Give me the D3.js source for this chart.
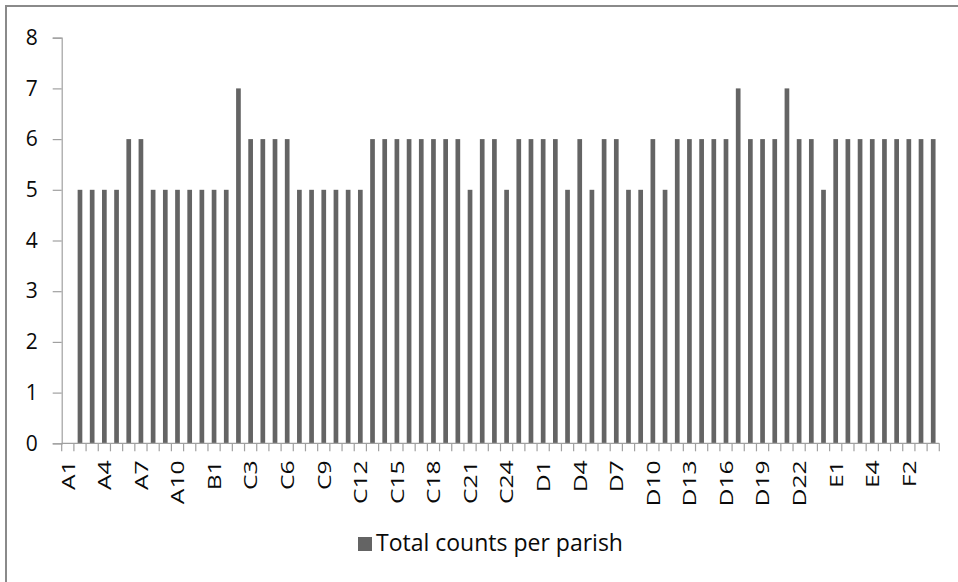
<!DOCTYPE html>
<html>
<head>
<meta charset="utf-8">
<script src="https://cdn.jsdelivr.net/npm/d3@7"></script>
<style>
  html, body { margin: 0; padding: 0; background: #fff; overflow: hidden; }
  svg { display: block; }
  text { font-family: "Open Sans", "Liberation Sans", sans-serif; fill: #0a0a0a; }
</style>
</head>
<body>
<svg id="chart" width="958" height="582"></svg>
<script>
// ---- data ----
const groupA = ["A1","A2","A3","A4","A5","A6","A7","A8","A9","A10","A11","A12"];
const groupB = ["B1"];
const groupC = ["C1","C2","C3","C4","C5","C6","C7","C8","C9","C10","C11","C12","C13",
                "C14","C15","C16","C17","C18","C19","C20","C21","C22","C23","C24","C25","C26"];
const groupD = ["D1","D2","D3","D4","D5","D6","D7","D8","D9","D10","D11","D12",
                "D13","D14","D15","D16","D17","D18","D19","D20","D21","D22","D23","D24"];
const groupE = ["E1","E2","E3","E4","E5"];
const groupF = ["F1","F2","F3","F4"];
const categories = [...groupA, ...groupB, ...groupC, ...groupD, ...groupE, ...groupF];

const valuesA = [0,5,5,5,5,6,6,5,5,5,5,5];
const valuesB = [5];
const valuesC = [5,7,6,6,6,6,5,5,5,5,5,5,6,6,6,6,6,6,6,6,5,6,6,5,6,6];
const valuesD = [6,6,5,6,5,6,6,5,5,6,5,6,6,6,6,6,7,6,6,6,7,6,6,5];
const valuesE = [6,6,6,6,6];
const valuesF = [6,6,6,6];
const values = [...valuesA, ...valuesB, ...valuesC, ...valuesD, ...valuesE, ...valuesF];

const yTicks = [0,1,2,3,4,5,6,7,8];
const seriesName = "Total counts per parish";

// ---- layout ----
const svg = d3.select("#chart");
const plot = { left: 61.7, right: 939.3, top: 37.7, bottom: 443.3 };

// chart frame (only top and left edges fall inside the picture)
svg.append("rect")
  .attr("x", 6).attr("y", 6).attr("width", 1000).attr("height", 1000)
  .attr("fill", "#fff").attr("stroke", "#8a8a8a").attr("stroke-width", 2);

const x = d3.scaleBand()
  .domain(categories)
  .range([plot.left, plot.right])
  .paddingInner(0.615)
  .paddingOuter(0.3075);

const xSlots = d3.scaleLinear().domain([0, categories.length]).range([plot.left, plot.right]);

const y = d3.scaleLinear().domain([0, 8]).range([plot.bottom, plot.top]);

const axisColor = "#a0a0a0";

// bars
svg.append("g").selectAll("rect")
  .data(categories.map((c, i) => ({ c, v: values[i] })))
  .join("rect")
  .attr("x", d => x(d.c))
  .attr("width", x.bandwidth())
  .attr("y", d => y(d.v))
  .attr("height", d => y(0) - y(d.v))
  .attr("fill", "#646464");

// y axis
const yAxis = svg.append("g")
  .attr("transform", `translate(${plot.left},0)`)
  .call(d3.axisLeft(y).tickValues(yTicks).tickSize(9).tickPadding(15).tickFormat(d3.format("d")));
yAxis.select(".domain").attr("stroke", axisColor).attr("stroke-width", 1.2);
yAxis.selectAll(".tick line").attr("stroke", axisColor).attr("stroke-width", 1.2);
yAxis.selectAll(".tick text")
  .style("font-size", "21px").attr("fill", "#0a0a0a");

// x axis: boundary ticks
const xAxisG = svg.append("g").attr("transform", `translate(0,${plot.bottom})`);
xAxisG.append("line")
  .attr("x1", plot.left).attr("x2", plot.right)
  .attr("stroke", axisColor).attr("stroke-width", 1.2);
xAxisG.selectAll("line.tk")
  .data(d3.range(0, categories.length + 1))
  .join("line")
  .attr("class", "tk")
  .attr("x1", d => xSlots(d)).attr("x2", d => xSlots(d))
  .attr("y1", 0).attr("y2", 8)
  .attr("stroke", axisColor).attr("stroke-width", 1.2);

// x labels every 3rd
const labelCats = categories.filter((c, i) => i % 3 === 0);
const xLab = svg.append("g")
  .attr("transform", `translate(0,${plot.bottom})`)
  .call(d3.axisBottom(x).tickValues(labelCats).tickSize(0).tickPadding(0));
xLab.select(".domain").remove();
xLab.selectAll(".tick text")
  .attr("transform", "rotate(-90) scale(1.3,1)")
  .attr("text-anchor", "end")
  .attr("x", -17 / 1.3)
  .attr("y", 0)
  .attr("dy", "0.36em")
  .style("font-size", "19px")
  .attr("fill", "#0a0a0a");

// legend
const legend = svg.append("g");
legend.append("rect")
  .attr("x", 358).attr("y", 537).attr("width", 14).attr("height", 14)
  .attr("fill", "#646464");
legend.append("text")
  .attr("x", 376).attr("y", 551)
  .style("font-size", "23px")
  .text(seriesName);
</script>
</body>
</html>
